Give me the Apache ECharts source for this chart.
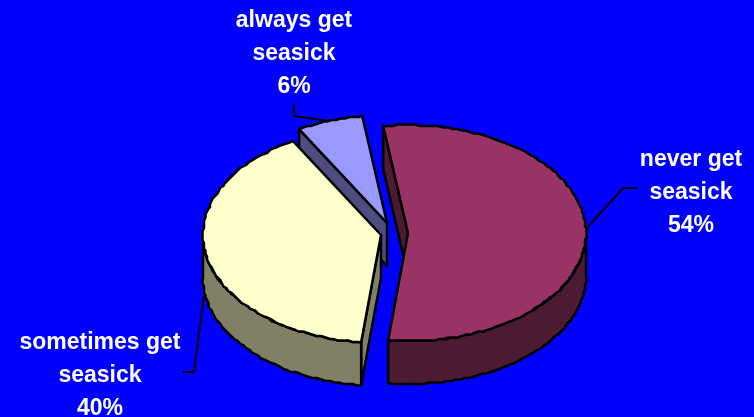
<!DOCTYPE html>
<html>
<head>
<meta charset="utf-8">
<style>html,body{margin:0;padding:0;background:#0000ff}#c{width:754px;height:417px}</style>
<script src="https://cdn.jsdelivr.net/npm/echarts@6/dist/echarts.min.js"></script>
</head>
<body>
<div id="c"></div>
<script>
// Data
const categories = ['never get\nseasick', 'sometimes get\nseasick', 'always get\nseasick'];
const seriesValues = [54, 40, 6];

// Layout and styles
const startAngle = -8;
const radiusX = 178, radiusY = 108, depth = 43, gridStep = 1.5;
const centers = [[408, 233], [381, 235], [387, 223]];
const topColors = ['#993366', '#ffffcc', '#9999ff'];
const wallColors = ['#4d1a33', '#808066', '#4d4d80'];
const drawOrder = [3, 2, 1];          // z-layer per slice
const labelPositions = [[691, 192.5], [100, 375.5], [294, 53.5]];
const leaders = [
  [[586, 229], [623, 188], [637, 188]],
  [[204, 296], [194, 372], [183, 372]],
  [[328, 121], [294, 116], [294, 103]]
];

const total = seriesValues.reduce((a, b) => a + b, 0);
const snap = v => Math.round(v / gridStep) * gridStep;

function rimPoint(c, deg, drop) {
  const t = deg * Math.PI / 180;
  return [c[0] + radiusX * Math.sin(t), c[1] - radiusY * Math.cos(t) + (drop || 0)];
}
function arc(c, from, to, drop) {
  const pts = [];
  const n = Math.max(2, Math.ceil(Math.abs(to - from) / 1.5));
  for (let i = 0; i <= n; i++) {
    const p = rimPoint(c, from + (to - from) * i / n, drop);
    pts.push(i === 0 || i === n ? p : [snap(p[0]), snap(p[1])]);
  }
  return pts;
}
function poly(points, fill, z2) {
  return {
    type: 'polygon', z2: z2,
    shape: { points: points },
    style: { fill: fill, stroke: '#000', lineWidth: 2.5, lineJoin: 'round' }
  };
}
function renderSlice(params, api) {
  const i = params.dataIndex;
  const before = seriesValues.slice(0, i).reduce((a, b) => a + b, 0);
  const a0 = startAngle + before / total * 360;
  const a1 = a0 + api.value(0) / total * 360;
  const c = centers[i];
  const base = drawOrder[i] * 10;
  const children = [];

  // straight cut wall at the slice's starting edge, seen when that edge lies on the left half
  if (((a0 % 360) + 360) % 360 > 180) {
    const p = rimPoint(c, a0);
    children.push(poly([c, p, [p[0], p[1] + depth], [c[0], c[1] + depth]], wallColors[i], base));
  }
  // outer cylinder wall on the front half only
  const f0 = Math.max(a0, 90), f1 = Math.min(a1, 270);
  if (f1 > f0) {
    const pts = arc(c, f0, f1, 0).concat(arc(c, f0, f1, depth).reverse());
    children.push(poly(pts, wallColors[i], base + 1));
  }
  // top surface
  children.push(poly([c].concat(arc(c, a0, a1, 0)), topColors[i], base + 2));

  // leader line
  children.push({
    type: 'polyline', z2: 50,
    shape: { points: leaders[i] },
    style: { fill: null, stroke: '#000', lineWidth: 2 }
  });
  // label
  children.push({
    type: 'text', z2: 60,
    x: labelPositions[i][0], y: labelPositions[i][1],
    style: {
      text: categories[i] + '\n' + api.value(0) + '%',
      fill: '#fff',
      font: 'bold 23px "Liberation Sans", Arial, sans-serif',
      lineHeight: 33,
      align: 'center', verticalAlign: 'middle'
    }
  });
  return { type: 'group', children: children };
}

const chart = echarts.init(document.getElementById('c'), null, { renderer: 'canvas' });
chart.setOption({
  backgroundColor: '#0000ff',
  animation: false,
  series: [{
    type: 'custom',
    coordinateSystem: 'none',
    silent: true,
    clip: false,
    renderItem: renderSlice,
    data: seriesValues.map(v => [v])
  }]
});
</script>
</body>
</html>
